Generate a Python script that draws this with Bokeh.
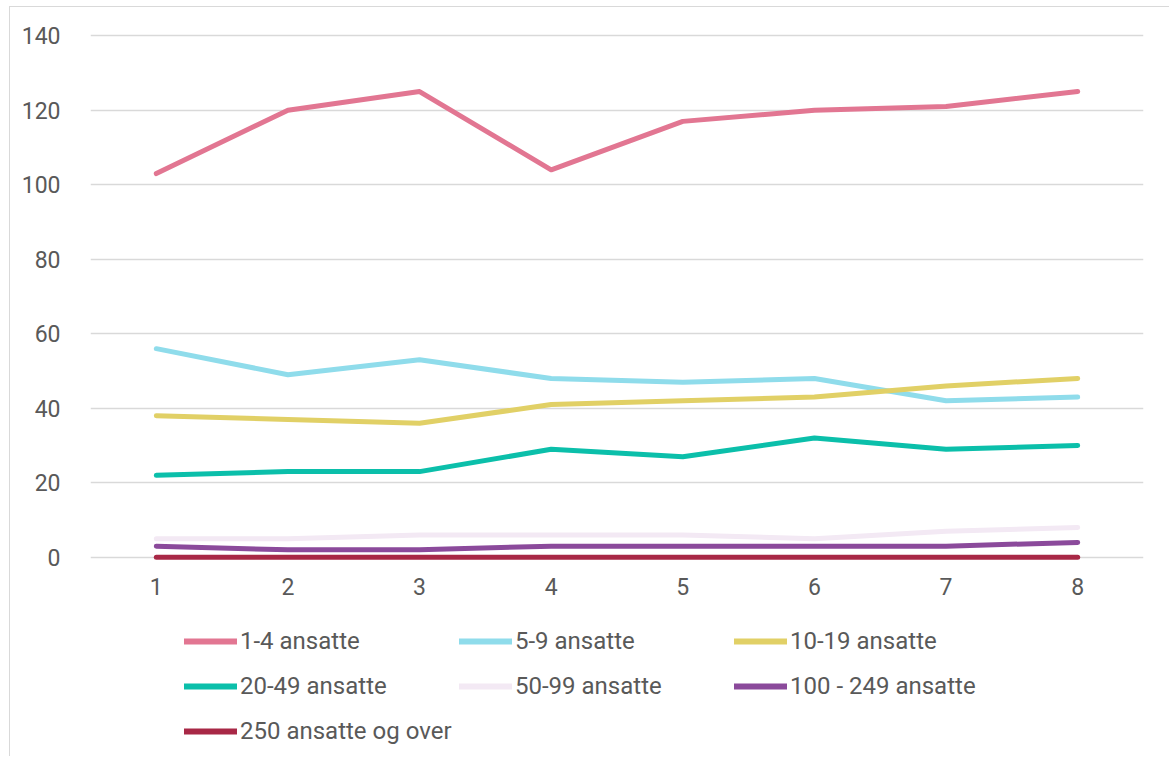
from bokeh.plotting import figure
from bokeh.models import Range1d, FixedTicker, Legend, LegendItem
from bokeh.layouts import column
from bokeh.embed import file_html
from bokeh.resources import INLINE

x = [1, 2, 3, 4, 5, 6, 7, 8]
s_1_4 = [103, 120, 125, 104, 117, 120, 121, 125]
s_5_9 = [56, 49, 53, 48, 47, 48, 42, 43]
s_10_19 = [38, 37, 36, 41, 42, 43, 46, 48]
s_20_49 = [22, 23, 23, 29, 27, 32, 29, 30]
s_50_99 = [5, 5, 6, 6, 6, 5, 7, 8]
s_100_249 = [3, 2, 2, 3, 3, 3, 3, 4]
s_250 = [0, 0, 0, 0, 0, 0, 0, 0]

names = ["1-4 ansatte", "5-9 ansatte", "10-19 ansatte", "20-49 ansatte",
         "50-99 ansatte", "100 - 249 ansatte", "250 ansatte og over"]
series = [s_1_4, s_5_9, s_10_19, s_20_49, s_50_99, s_100_249, s_250]
colors = ["#E27692", "#8FDCEB", "#E1D066", "#0BBFAA", "#F3E9F4", "#8B4A9B", "#A82846"]
y_ticks = [0, 20, 40, 60, 80, 100, 120, 140]

FONT = "Roboto"
TXT = "#595959"

# main chart
p = figure(frame_width=1053, frame_height=544, output_backend="svg", toolbar_location=None,
           x_range=Range1d(0.5, 8.5), y_range=Range1d(-3, 143),
           min_border_left=80, min_border_right=26, min_border_top=17,
           min_border_bottom=40)
p.outline_line_color = None
p.background_fill_color = "white"
p.border_fill_color = "white"

p.xgrid.grid_line_color = None
p.ygrid.grid_line_color = "#d9d9d9"
p.ygrid.grid_line_width = 1.5

for ax in (p.xaxis[0], p.yaxis[0]):
    ax.axis_line_color = None
    ax.major_tick_line_color = None
    ax.minor_tick_line_color = None
    ax.major_label_text_font = FONT
    ax.major_label_text_font_size = "23px"
    ax.major_label_text_color = TXT
p.xaxis[0].ticker = FixedTicker(ticks=x)
p.yaxis[0].ticker = FixedTicker(ticks=y_ticks)
p.yaxis[0].major_label_standoff = 24
p.xaxis[0].major_label_standoff = 3

for ys, c in zip(series, colors):
    p.line(x, ys, line_color=c, line_width=5, line_cap="round", line_join="round")

# legend strip (same series, drawn out of view so only the legend shows)
lg = figure(width=1159, height=148, output_backend="svg", toolbar_location=None,
            x_range=Range1d(100, 101), y_range=Range1d(1000, 1001),
            x_axis_location=None, y_axis_location=None,
            min_border_left=0, min_border_right=0, min_border_top=0, min_border_bottom=0)
lg.outline_line_color = None
lg.xgrid.grid_line_color = None
lg.ygrid.grid_line_color = None
lg.background_fill_color = "white"
lg.border_fill_color = "white"

items = []
for name, ys, c in zip(names, series, colors):
    r = lg.line(x, ys, line_color=c, line_width=6, line_cap="round")
    items.append(LegendItem(label=name, renderers=[r]))

legend = Legend(items=items, ncols=3, orientation="horizontal", location=(94, 6),
                label_text_font=FONT, label_text_font_size="24px",
                label_text_color=TXT, glyph_width=53, glyph_height=38,
                label_standoff=3, spacing=7, padding=0, margin=0,
                label_width=212,
                border_line_color=None, background_fill_alpha=0)
lg.add_layout(legend, "center")

layout = column(p, lg, spacing=0,
                styles={"margin-left": "9px", "margin-top": "6px",
                        "border-left": "1px solid #d9d9d9",
                        "border-top": "1px solid #d9d9d9"})

open("out.html", "w").write(file_html(layout, INLINE))
